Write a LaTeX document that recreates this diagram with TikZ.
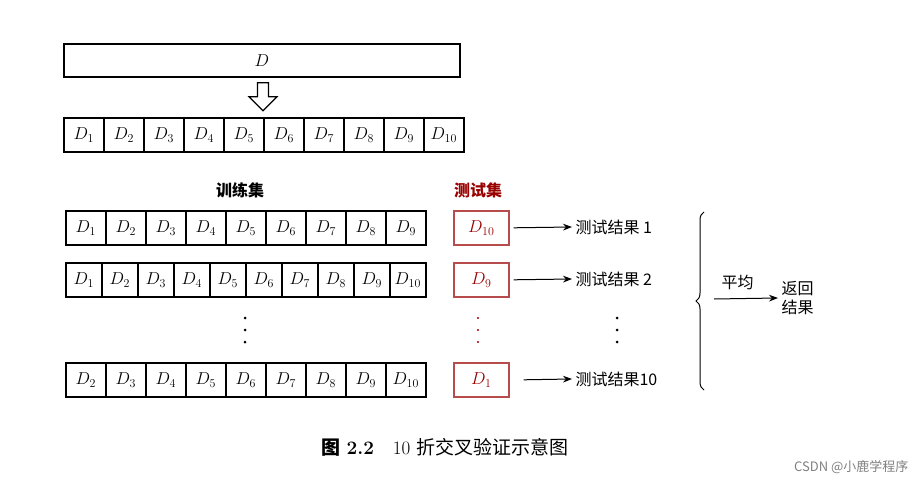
\documentclass[tikz,border=0pt]{standalone}
\usepackage{fontspec}
\newfontfamily\cjk{Noto Sans CJK SC}
\usetikzlibrary{arrows.meta,decorations.pathreplacing,shapes.arrows}
\begin{document}
\begin{tikzpicture}[x=1pt,y=-1pt,
  cell/.style={draw,line width=1.6pt,minimum width=40pt,minimum height=34pt,inner sep=0pt,font=\fontsize{18}{20}\selectfont,anchor=north west},
  tcell/.style={cell,draw=red!60!black!70,text=red!60!black,minimum width=55pt},
  lab/.style={font=\cjk\fontsize{16}{19}\selectfont,anchor=west},
  arr/.style={-{Stealth[length=9pt]},line width=1pt}]
\useasboundingbox (0,0) rectangle (924,487);
\node[draw,line width=1.6pt,minimum width=396pt,minimum height=33pt,anchor=north west,font=\fontsize{18}{20}\selectfont] (D) at (63,43) {$D$};
\node[draw,line width=1.2pt,single arrow,shape border rotate=270,minimum height=28pt,minimum width=28pt,single arrow head extend=4pt,inner sep=2pt] (ha) at (263,94) {};
\foreach \i in {1,...,10} \node[cell] (a\i) at ({63+40*(\i-1)},117) {$D_{\i}$};
\node[font=\cjk\bfseries\fontsize{16}{19}\selectfont] (trl) at (240,190) {训练集};
\node[font=\cjk\bfseries\fontsize{16}{19}\selectfont,text=red!60!black] (tel) at (478,190) {测试集};
\foreach \i in {1,...,9} \node[cell] (b\i) at ({65+40*(\i-1)},210) {$D_{\i}$};
\node[tcell] (bt) at (453,210) {$D_{10}$};
\foreach \i in {1,...,10} \node[cell,minimum width=36pt] (c\i) at ({65+36*(\i-1)},262) {$D_{\i}$};
\node[tcell] (ct) at (453,262) {$D_{9}$};
\foreach \i [evaluate=\i as \j using int(\i+1)] in {1,...,9} \node[cell] (d\i) at ({65+40*(\i-1)},362) {$D_{\j}$};
\node[tcell] (dt) at (453,362) {$D_{1}$};
\node[lab] (r1) at (572,227) {测试结果 1};
\node[lab] (r2) at (572,279) {测试结果 2};
\node[lab] (r3) at (572,379) {测试结果10};
\draw[arr] (bt.east) ++(4,0) coordinate (s1) -- (r1.west);
\draw[arr] (ct.east) ++(4,0) coordinate (s2) -- (r2.west);
\draw[arr] (dt.east) ++(14,0) coordinate (s3) -- (r3.west);
\foreach \x/\c in {245/black,617/black} \foreach \y in {318,330,342} \fill[\c] (\x,\y) circle (1.5pt);
\foreach \y in {318,330,342} \fill[red!60!black] (478,\y) circle (1.1pt);
\draw[decorate,decoration={brace,amplitude=8pt},line width=1pt] (704,390) -- coordinate (bm) (704,212);
\coordinate (bt2) at (714,299);
\node[lab] (avg) at (718,282) {平均};
\node[lab,align=left] (ret) at (778,298) {返回\\结果};
\draw[arr] (bt2) -- (ret.west);
\node[font=\fontsize{19}{22}\selectfont] (cap) at (445,447) {{\cjk\bfseries 图} \textbf{2.2}\quad 10 {\cjk 折交叉验证示意图}};
\node[font=\cjk\fontsize{13}{15}\selectfont,text=gray,anchor=east] (wm) at (912,467) {CSDN @小鹿学程序};
\end{tikzpicture}
\end{document}
